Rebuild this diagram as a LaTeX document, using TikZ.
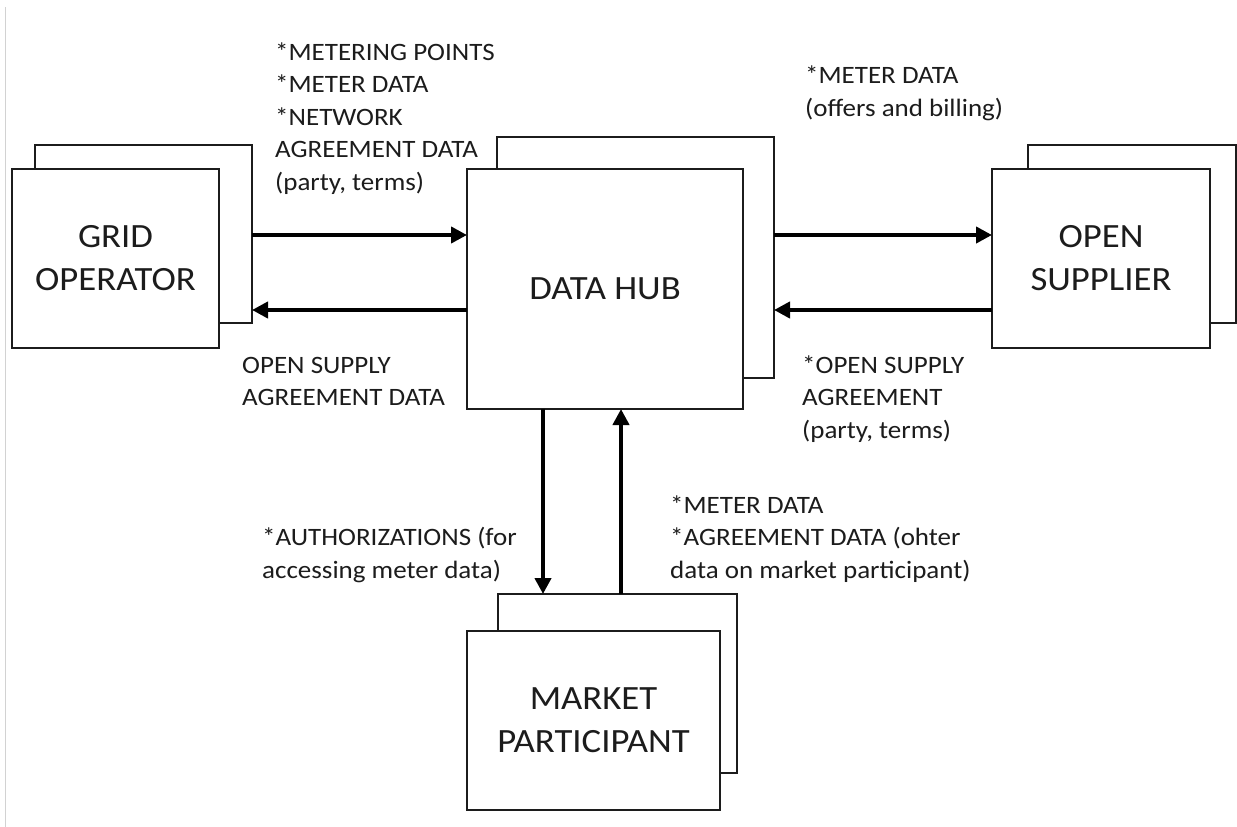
\documentclass[tikz,border=0pt]{standalone}
\usepackage{fontspec}
\setmainfont{Carlito}[FakeStretch=1.08]
\usetikzlibrary{arrows.meta}
\definecolor{ink}{HTML}{1C1C1C}
\begin{document}
\begin{tikzpicture}[x=1pt,y=-1pt,
  box/.style={draw=ink, line width=2.5pt, fill=white, inner sep=0pt, outer sep=0pt,
    align=center, font=\fontsize{34}{43}\selectfont, text=ink},
  lbl/.style={inner sep=0pt, align=left, anchor=base west,
    font=\fontsize{25}{32.5}\selectfont, text=ink},
  arr/.style={draw=black, line width=4pt, -{Triangle[length=16pt,width=16pt]}}]
\useasboundingbox (0,0) rectangle (1237,827);
\fill[white] (0,0) rectangle (1237,827);
\draw[gray!35, line width=1.5pt] (5.5,7) -- (5.5,827);

% boxes (back first, then front)
\node[box, minimum width=217pt, minimum height=178pt] (gob) at (143.5,234) {};
\node[box, minimum width=207pt, minimum height=179pt] (gof) at (115.5,258.5) {GRID\\OPERATOR};
\node[box, minimum width=277pt, minimum height=241pt] (hubb) at (635.5,257.5) {};
\node[box, minimum width=276pt, minimum height=240pt] (hubf) at (605,289) {DATA HUB};
\node[box, minimum width=208pt, minimum height=178pt] (osb) at (1132,234) {};
\node[box, minimum width=218pt, minimum height=179pt] (osf) at (1101,258.5) {OPEN\\SUPPLIER};
\node[box, minimum width=239pt, minimum height=179pt] (mpb) at (617.5,683.5) {};
\node[box, minimum width=253pt, minimum height=179pt] (mpf) at (593.5,720.5) {MARKET\\PARTICIPANT};

% helper coordinates
\coordinate (ya) at (0,235);
\coordinate (yb) at (0,310);
\coordinate (xa) at (543,0);
\coordinate (xb) at (621,0);

% connectors
\draw[arr] (gob.east |- ya) -- (hubf.west |- ya);
\draw[arr] (hubf.west |- yb) -- (gob.east |- yb);
\draw[arr] (hubb.east |- ya) -- (osf.west |- ya);
\draw[arr] (osf.west |- yb) -- (hubb.east |- yb);
\draw[arr] (hubf.south -| xa) -- (mpb.north -| xa);
\draw[arr] (mpb.north -| xb) -- (hubf.south -| xb);

% labels (anchor = baseline of the last line)
\node[lbl] (l1) at (275,190) {*METERING POINTS\\*METER DATA\\*NETWORK\\AGREEMENT DATA\\(party, terms)};
\node[lbl] (l2) at (805,116) {*METER DATA\\(offers and billing)};
\node[lbl] (l3) at (242,405.5) {OPEN SUPPLY\\AGREEMENT DATA};
\node[lbl] (l4) at (802,438) {*OPEN SUPPLY\\AGREEMENT\\(party, terms)};
\node[lbl] (l5) at (262,578) {*AUTHORIZATIONS (for\\accessing meter data)};
\node[lbl] (l6) at (670,578) {*METER DATA\\*AGREEMENT DATA (ohter\\data on market participant)};
\end{tikzpicture}
\end{document}
